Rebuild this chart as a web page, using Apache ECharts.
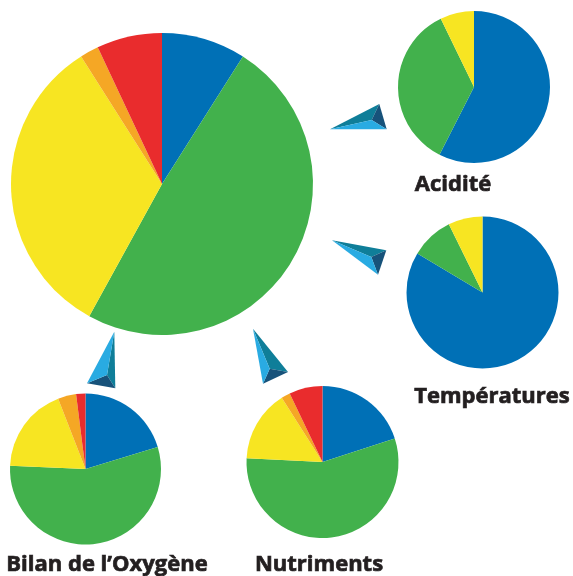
<!DOCTYPE html>
<html>
<head>
<meta charset="utf-8">
<script src="https://cdn.jsdelivr.net/npm/echarts@6/dist/echarts.min.js"></script>
<style>
  html, body { margin: 0; padding: 0; background: #ffffff; }
  #chart { width: 573px; height: 576px; }
</style>
</head>
<body>
<div id="chart"></div>
<script>
// Water quality classes and their colours
const classes = ['Très bon', 'Bon', 'Moyen', 'Médiocre', 'Mauvais'];
const classColors = ['#0070b6', '#42b14c', '#f7e522', '#f5a725', '#e92c2d'];

// Share of stations per class (%)
const globalState = [9, 49, 33, 2, 7];
const acidite = [57.5, 35.3, 7.2, 0, 0];
const temperatures = [83.6, 9.1, 7.3, 0, 0];
const oxygene = [20.3, 55.4, 18.4, 3.9, 2.0];
const nutriments = [20, 55.8, 15.2, 1.9, 7.1];

// Chart titles under the small pies
const titles = ['Acidité', 'Températures', 'Bilan de l\u2019Oxygène', 'Nutriments'];

function toData(values) {
  return values.map((v, i) => ({ name: classes[i], value: v, itemStyle: { color: classColors[i] } }))
               .filter(d => d.value > 0);
}

function pie(values, center, radius) {
  return {
    type: 'pie',
    center: center,
    radius: radius,
    startAngle: 90,
    clockwise: true,
    silent: true,
    label: { show: false },
    labelLine: { show: false },
    emphasis: { disabled: true },
    itemStyle: { borderWidth: 0 },
    data: toData(values)
  };
}

// 3D pointer made of three triangular faces
const faceLight = '#29abe2', faceTeal = '#0f7e99', faceDark = '#17527a';
function pointer(a, b, c, inner, colors) {
  return [
    { type: 'polygon', shape: { points: [a, b, inner] }, style: { fill: colors[0] }, silent: true },
    { type: 'polygon', shape: { points: [b, c, inner] }, style: { fill: colors[1] }, silent: true },
    { type: 'polygon', shape: { points: [c, a, inner] }, style: { fill: colors[2] }, silent: true }
  ];
}

const labelFont = {
  fontFamily: 'Open Sans', fontWeight: 'bold', fontSize: 22,
  fill: '#231f20', stroke: '#231f20', lineWidth: 0.7,
  align: 'center', verticalAlign: 'middle'
};
function caption(text, x, y) {
  return { type: 'text', x: x, y: y, style: Object.assign({ text: text }, labelFont), silent: true };
}

const chart = echarts.init(document.getElementById('chart'), null, { renderer: 'canvas' });
chart.setOption({
  animation: false,
  backgroundColor: '#ffffff',
  series: [
    pie(globalState, [162, 184], 151),
    pie(acidite, [474, 87], 76),
    pie(temperatures, [482.5, 292.5], 76),
    pie(oxygene, [85.5, 469], 75.5),
    pie(nutriments, [322.5, 462], 76)
  ],
  graphic: [].concat(
    pointer([330, 129.3], [379.3, 104], [386.7, 129.3], [371.7, 120], [faceTeal, faceDark, faceLight]),
    pointer([332, 240.3], [386.3, 250.3], [378, 274.7], [371.3, 257], [faceTeal, faceDark, faceLight]),
    pointer([114.3, 331.7], [115.3, 388.3], [87, 383.3], [107, 375], [faceTeal, faceDark, faceLight]),
    pointer([253, 328.7], [288, 372], [263, 383.7], [269.7, 368.7], [faceTeal, faceDark, faceLight]),
    [
      caption(titles[0], 453, 185),
      caption(titles[1], 492, 397),
      caption(titles[2], 107, 565),
      caption(titles[3], 319, 565)
    ]
  )
});
</script>
</body>
</html>
